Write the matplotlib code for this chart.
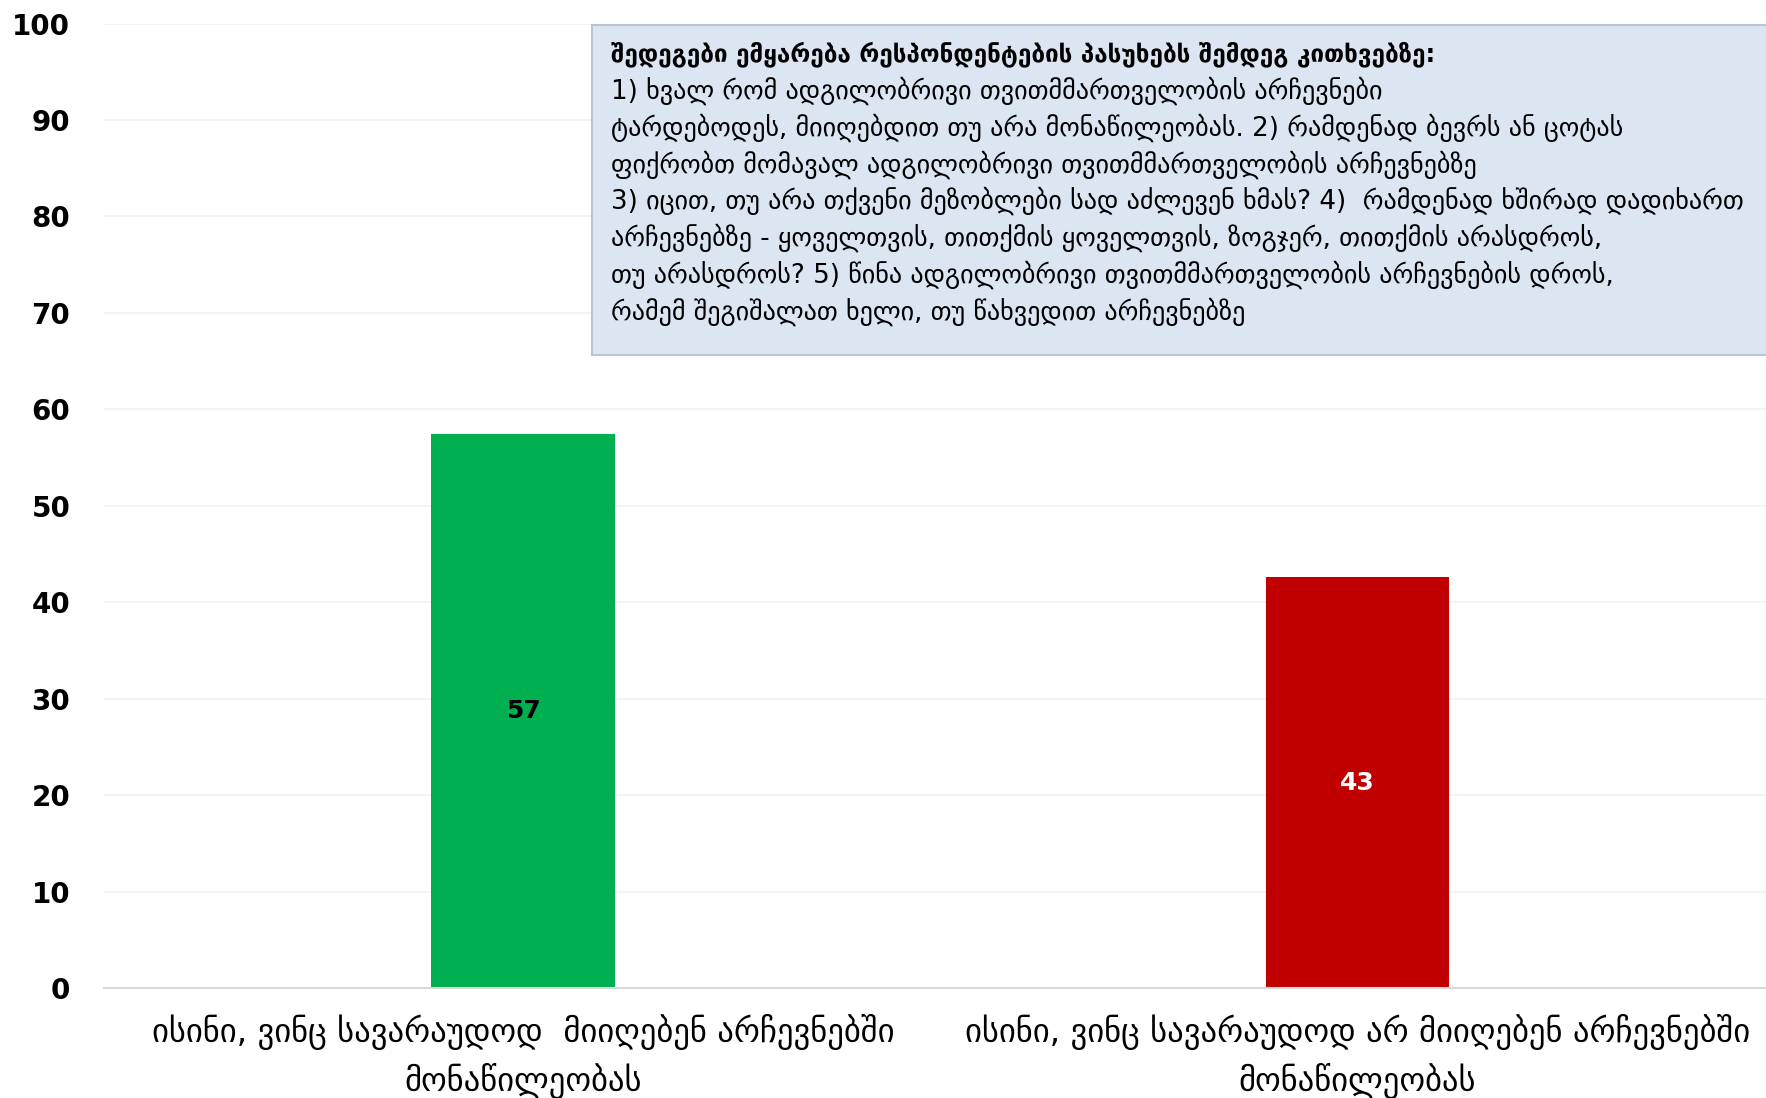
import matplotlib
matplotlib.use("Agg")
from matplotlib import pyplot as plt
from matplotlib.patches import Rectangle

# Data
categories = [
    "ისინი, ვინც სავარაუდოდ  მიიღებენ არჩევნებში\nმონაწილეობას",
    "ისინი, ვინც სავარაუდოდ არ მიიღებენ არჩევნებში\nმონაწილეობას",
]
values = [57.4, 42.6]
bar_colors = ["#00b050", "#c00000"]
label_colors = ["black", "white"]
y_ticks = list(range(0, 101, 10))

note_title = "შედეგები ემყარება რესპონდენტების პასუხებს შემდეგ კითხვებზე:"
note_lines = [
    "1) ხვალ რომ ადგილობრივი თვითმმართველობის არჩევნები",
    "ტარდებოდეს, მიიღებდით თუ არა მონაწილეობას. 2) რამდენად ბევრს ან ცოტას",
    "ფიქრობთ მომავალ ადგილობრივი თვითმმართველობის არჩევნებზე",
    "3) იცით, თუ არა თქვენი მეზობლები სად აძლევენ ხმას? 4)  რამდენად ხშირად დადიხართ",
    "არჩევნებზე - ყოველთვის, თითქმის ყოველთვის, ზოგჯერ, თითქმის არასდროს,",
    "თუ არასდროს? 5) წინა ადგილობრივი თვითმმართველობის არჩევნების დროს,",
    "რამემ შეგიშალათ ხელი, თუ წახვედით არჩევნებზე",
]

W, H = 1766, 1098
fig = plt.figure(figsize=(W / 100, H / 100), dpi=100)
ax = fig.add_axes([103.6 / W, 1 - 988 / H, 1 - 103.6 / W, (988 - 23.6) / H])

x = list(range(len(values)))
bars = ax.bar(x, values, width=0.22, color=bar_colors, zorder=2)
for b, v, c in zip(bars, values, label_colors):
    ax.text(b.get_x() + b.get_width() / 2, v / 2, f"{round(v)}",
            ha="center", va="center", fontsize=18, fontweight="bold", color=c)

ax.set_xlim(-0.503, 1.49)
ax.set_ylim(0, 100)
ax.set_yticks(y_ticks)
ax.set_yticklabels([str(t) for t in y_ticks], fontsize=20, fontweight="bold")
ax.set_xticks(x)
ax.set_xticklabels(categories, fontsize=23.5, linespacing=1.45)
ax.tick_params(axis="y", length=0, pad=24)
ax.tick_params(axis="x", length=0, pad=19)
ax.grid(axis="y", color="#f2f2f2", linewidth=1.2, zorder=0)
for s in ["top", "right", "left"]:
    ax.spines[s].set_visible(False)
ax.spines["bottom"].set_color("#d9d9d9")
ax.spines["bottom"].set_linewidth(1.5)

# Note box
fig.patches.append(Rectangle((592 / W, 1 - 355 / H), 1.0, 330 / H,
                             transform=fig.transFigure, facecolor="#dce6f2",
                             edgecolor="#b9c4d4", linewidth=1.5, zorder=3))
tx = 611 / W
y0 = 54
step = 36.8
fig.text(tx, 1 - y0 / H, note_title, fontsize=17.5, fontweight="bold",
         va="center", ha="left", zorder=4)
for i, line in enumerate(note_lines):
    fig.text(tx, 1 - (y0 + step * (i + 1)) / H, line, fontsize=18.8,
             va="center", ha="left", zorder=4)

fig.savefig("out.png", dpi=100)
